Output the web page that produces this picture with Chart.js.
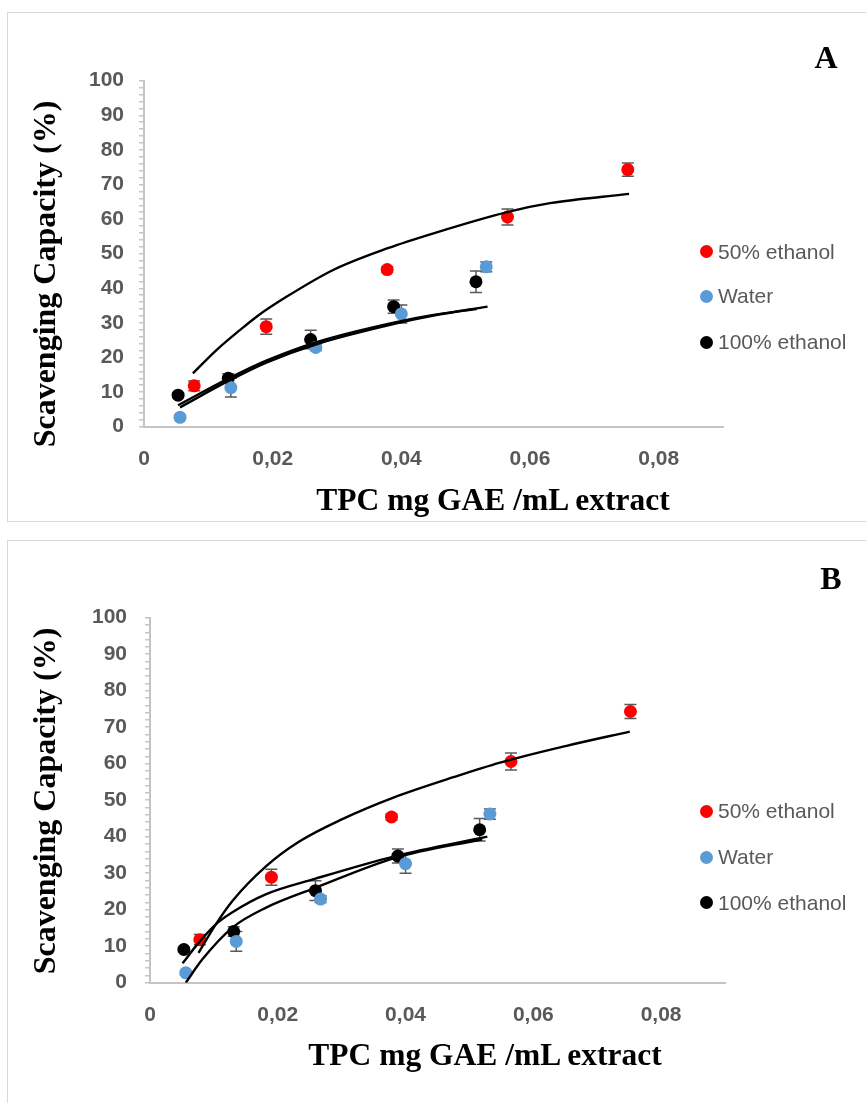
<!DOCTYPE html>
<html>
<head>
<meta charset="utf-8">
<title>Scavenging capacity vs TPC</title>
<script src="https://cdn.jsdelivr.net/npm/chart.js@4.4.1/dist/chart.umd.min.js"></script>
<style>
  html, body { margin: 0; padding: 0; background: #fff; }
  body { width: 866px; height: 1103px; overflow: hidden; position: relative; }
  .frame { position: absolute; border: 1.5px solid #d9d9d9; box-sizing: border-box; }
  canvas { position: absolute; left: 0; }
  .ttl { position: absolute; font-family: 'Liberation Serif', 'Times New Roman', serif; font-weight: bold;
         color: #000; line-height: 1; white-space: nowrap; transform: translate(-50%, -50%); }
  .ytl { transform: translate(-50%, -50%) rotate(-90deg); }
  .key-row { position: absolute; display: flex; align-items: center; height: 24px;
             font-family: 'Liberation Sans', Arial, sans-serif; font-size: 21px; color: #595959; white-space: nowrap; }
  .key-dot { width: 13px; height: 13px; border-radius: 50%; margin-right: 5.5px; flex: none; }
</style>
</head>
<body>
<div class="frame" style="left:7px;top:12px;width:880px;height:510px"></div>
<div class="frame" style="left:7px;top:540px;width:880px;height:600px"></div>

<canvas id="chartA" width="866" height="530" style="top:0"></canvas>
<canvas id="chartB" width="866" height="573" style="top:530px"></canvas>

<div class="ttl" style="left:826px;top:57px;font-size:32px">A</div>
<div class="ttl ytl" style="left:44px;top:274px;font-size:32px">Scavenging Capacity (%)</div>
<div class="ttl" style="left:493px;top:500px;font-size:31.5px">TPC mg GAE /mL extract</div>
<div id="keyA"></div>

<div class="ttl" style="left:831px;top:578px;font-size:32px">B</div>
<div class="ttl ytl" style="left:44px;top:801px;font-size:32px">Scavenging Capacity (%)</div>
<div class="ttl" style="left:485px;top:1055px;font-size:31.5px">TPC mg GAE /mL extract</div>
<div id="keyB"></div>

<script>
// ---- measured series (TPC in mg GAE/mL, scavenging in %) ----
const seriesNames = ['50% ethanol', 'Water', '100% ethanol'];
const seriesColors = ['#FF0000', '#5B9BD5', '#000000'];

const tpc50 = [0.0078, 0.0190, 0.0378, 0.0565, 0.0752];
const scav50 = [11.8, 28.9, 45.4, 60.6, 74.3];
const err50 = [1.4, 2.2, 0.8, 2.3, 1.9];

const tpcWater = [0.0056, 0.0135, 0.0267, 0.0400, 0.0532];
const scavWater = [2.7, 11.3, 22.9, 32.6, 46.2];
const errWater = [0.6, 2.7, 0.9, 2.6, 1.4];

const tpc100 = [0.0053, 0.0131, 0.0259, 0.0388, 0.0516];
const scav100 = [9.1, 14.0, 25.2, 34.7, 41.9];
const err100 = [0.6, 1.3, 2.7, 1.9, 3.1];

// ---- fitted trend curves, panel A ----
const fitA50X = [0.0076, 0.0113, 0.0149, 0.0175, 0.0222, 0.0294, 0.0379, 0.0450, 0.0566, 0.0631, 0.0754];
const fitA50Y = [15.4, 22.2, 27.9, 31.8, 37.6, 45.3, 51.6, 55.9, 62.1, 64.6, 67.3];
const fitAWaterX = [0.0056, 0.0132, 0.0191, 0.0269, 0.0389, 0.0450, 0.0534];
const fitAWaterY = [5.6, 13.3, 18.6, 23.9, 29.7, 32.1, 34.7];
const fitA100X = [0.0053, 0.0131, 0.0190, 0.0267, 0.0388, 0.0450, 0.0517];
const fitA100Y = [6.2, 13.9, 19.1, 24.4, 30.1, 32.3, 34.0];

// ---- fitted trend curves, panel B ----
const fitB50X = [0.0076, 0.0103, 0.0129, 0.0181, 0.0233, 0.0301, 0.0381, 0.0475, 0.0548, 0.0652, 0.0751];
const fitB50Y = [8.2, 16.0, 22.4, 31.8, 38.6, 44.8, 50.7, 56.3, 60.3, 64.9, 68.8];
const fitBWaterX = [0.0056, 0.0082, 0.0129, 0.0181, 0.0259, 0.0384, 0.0520];
const fitBWaterY = [0.0, 6.4, 15.1, 20.5, 26.0, 34.2, 39.3];
const fitB100X = [0.0051, 0.0075, 0.0103, 0.0129, 0.0181, 0.0259, 0.0384, 0.0528];
const fitB100Y = [5.3, 10.7, 16.0, 19.3, 24.2, 28.5, 34.7, 40.0];

// ---- axis labels ----
const xTickLabels = ['0', '0,02', '0,04', '0,06', '0,08'];
const yTickLabels = ['0', '10', '20', '30', '40', '50', '60', '70', '80', '90', '100'];
const xStep = 0.02;

// ---- appearance ----
const axisGrey = '#C4C4C4';
const tickFont = { family: "'Liberation Sans', Arial, sans-serif", size: 21, weight: 'bold' };
const tickColor = '#595959';

const pointSets = [
  { x: tpc50, y: scav50 },
  { x: tpcWater, y: scavWater },
  { x: tpc100, y: scav100 }
];
const errSets = [err50, errWater, err100];

// vertical error bars with caps, painted under the markers
const errorBarPlugin = {
  id: 'errorBars',
  beforeDatasetsDraw(chart) {
    const { ctx } = chart;
    const yScale = chart.scales.y;
    ctx.save();
    ctx.strokeStyle = '#595959';
    ctx.lineWidth = 1.5;
    errSets.forEach((err, i) => {
      const meta = chart.getDatasetMeta(i);
      meta.data.forEach((pt, j) => {
        const v = chart.data.datasets[i].data[j].y;
        const top = yScale.getPixelForValue(v + err[j]);
        const bot = yScale.getPixelForValue(v - err[j]);
        ctx.beginPath();
        ctx.moveTo(pt.x, top); ctx.lineTo(pt.x, bot);
        ctx.moveTo(pt.x - 6, top); ctx.lineTo(pt.x + 6, top);
        ctx.moveTo(pt.x - 6, bot); ctx.lineTo(pt.x + 6, bot);
        ctx.stroke();
      });
    });
    ctx.restore();
  }
};

// legend as HTML rows, filled from the chart's own point datasets
function keyPlugin(hostId, rowCentersY, dotCenterX) {
  return {
    id: 'htmlKey',
    afterUpdate(chart) {
      const host = document.getElementById(hostId);
      host.innerHTML = '';
      chart.data.datasets.slice(0, seriesNames.length).forEach((ds, k) => {
        const row = document.createElement('div');
        row.className = 'key-row';
        row.style.left = (dotCenterX - 6.5) + 'px';
        row.style.top = (rowCentersY[k] - 12) + 'px';
        const dot = document.createElement('span');
        dot.className = 'key-dot';
        dot.style.background = ds.backgroundColor;
        const txt = document.createElement('span');
        txt.textContent = ds.label;
        row.appendChild(dot);
        row.appendChild(txt);
        host.appendChild(row);
      });
    }
  };
}

function buildPanel(canvasId, geom, fits, key) {
  const datasets = pointSets.map((s, i) => ({
    label: seriesNames[i],
    data: s.x.map((x, j) => ({ x, y: s.y[j] })),
    backgroundColor: seriesColors[i],
    borderColor: seriesColors[i],
    borderWidth: 0,
    pointRadius: 6.5,
    pointHoverRadius: 6.5,
    order: 1
  }));
  fits.forEach(f => datasets.push({
    label: f.name,
    data: f.x.map((x, j) => ({ x, y: f.y[j] })),
    showLine: true,
    borderColor: '#000',
    backgroundColor: '#000',
    borderWidth: 2.4,
    pointRadius: 0,
    pointHoverRadius: 0,
    cubicInterpolationMode: 'monotone',
    fill: false,
    order: 0
  }));

  const canvas = document.getElementById(canvasId);
  return new Chart(canvas, {
    type: 'scatter',
    data: { datasets },
    options: {
      responsive: false,
      animation: false,
      events: [],
      layout: { padding: { left: 0, top: geom.plotTop, right: canvas.width - geom.plotRight, bottom: 0 } },
      plugins: { legend: { display: false }, tooltip: { enabled: false } },
      scales: {
        x: {
          type: 'linear', min: 0, max: 0.09,
          afterFit: s => { s.height = canvas.height - geom.plotBottom; },
          ticks: {
            stepSize: xStep, includeBounds: false, autoSkip: false, maxRotation: 0, padding: geom.xLabelGap,
            color: tickColor, font: tickFont,
            callback: v => {
              const k = Math.round(v / xStep);
              return Math.abs(v - k * xStep) < 1e-9 && k < xTickLabels.length ? xTickLabels[k] : '';
            }
          },
          grid: { display: false, drawTicks: false },
          border: { display: true, color: axisGrey, width: 2 }
        },
        y: {
          type: 'linear', min: 0, max: 100,
          afterFit: s => { s.width = geom.plotLeft; },
          ticks: {
            stepSize: 2, maxTicksLimit: 100, autoSkip: false, padding: geom.yLabelGap,
            color: tickColor, font: tickFont,
            callback: v => {
              const r = Math.round(v);
              return r % 10 === 0 ? yTickLabels[r / 10] : '';
            }
          },
          grid: { display: true, drawOnChartArea: false, drawTicks: true, tickLength: 5, color: axisGrey, lineWidth: 1.5 },
          border: { display: true, color: axisGrey, width: 2 }
        }
      }
    },
    plugins: [errorBarPlugin, keyPlugin(key.host, key.rows, key.dotX)]
  });
}

buildPanel('chartA',
  { plotLeft: 144, plotRight: 723, plotTop: 80.7, plotBottom: 426.7, xLabelGap: 20, yLabelGap: 15 },
  [
    { name: '50% ethanol fit', x: fitA50X, y: fitA50Y },
    { name: 'Water fit', x: fitAWaterX, y: fitAWaterY },
    { name: '100% ethanol fit', x: fitA100X, y: fitA100Y }
  ],
  { host: 'keyA', rows: [251.7, 296.4, 342], dotX: 706 });

buildPanel('chartB',
  { plotLeft: 150, plotRight: 725, plotTop: 87.7, plotBottom: 452.7, xLabelGap: 19.5, yLabelGap: 18 },
  [
    { name: '50% ethanol fit', x: fitB50X, y: fitB50Y },
    { name: 'Water fit', x: fitBWaterX, y: fitBWaterY },
    { name: '100% ethanol fit', x: fitB100X, y: fitB100Y }
  ],
  { host: 'keyB', rows: [811, 857.3, 902.7], dotX: 706 });
</script>
</body>
</html>
